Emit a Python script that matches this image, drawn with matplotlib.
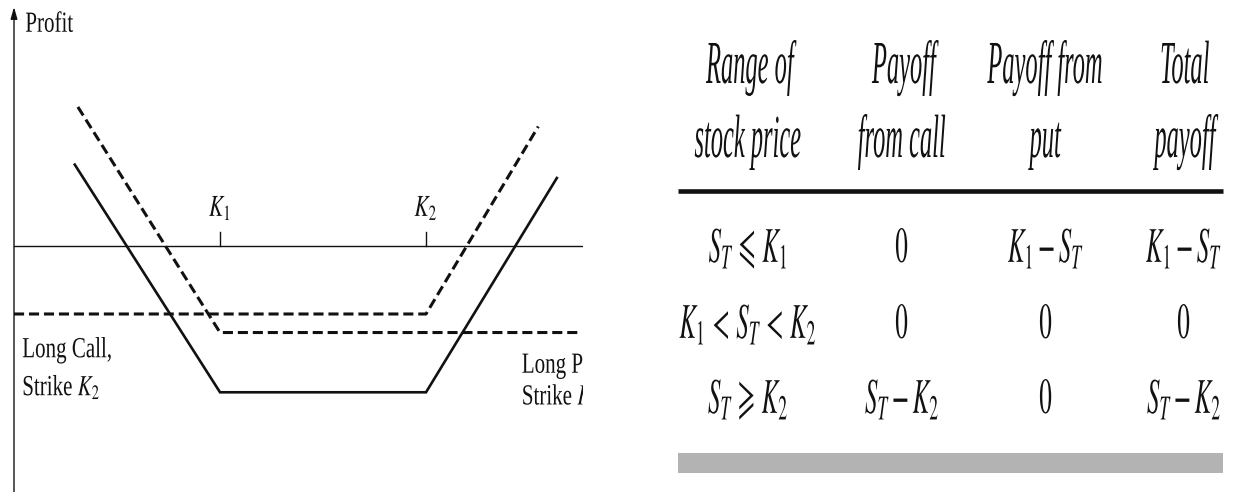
import matplotlib
matplotlib.use('Agg')
import matplotlib.pyplot as plt
from matplotlib.patheffects import AbstractPathEffect
from matplotlib.transforms import Affine2D
from matplotlib.patches import Rectangle

plt.rcParams['font.family'] = ['Liberation Serif', 'DejaVu Serif']
plt.rcParams['mathtext.fontset'] = 'stix'

# --- profit diagram (stock price, profit) ---
strikes = [40, 60]
strike_labels = [r'$K_1$', r'$K_2$']
put_price = [26.2, 40, 74.8]
put_profit = [13.5, -8.4, -8.4]
call_price = [20, 60, 70.9]
call_profit = [-6.6, -6.6, 11.6]
strangle_price = [25.9, 40, 60, 72.7]
strangle_profit = [7.9, -14.2, -14.2, 6.6]

# --- payoff table ---
header_top = ['Range of', 'Payoff', 'Payoff from', 'Total']
header_bottom = ['stock price', 'from call', 'put', 'payoff']
price_ranges = [r'$S_T\,\leqslant\,K_1$', r'$K_1\,<\,S_T\,<\,K_2$', r'$S_T\,\geqslant\,K_2$']
call_payoffs = [r'$0$', r'$0$', r'$S_T - K_2$']
put_payoffs = [r'$K_1 - S_T$', r'$0$', r'$0$']
total_payoffs = [r'$K_1 - S_T$', r'$0$', r'$S_T - K_2$']


class Squeeze(AbstractPathEffect):
    """Draw text glyphs narrower (the original uses a condensed face)."""

    def __init__(self, sx, anchor='center'):
        super().__init__()
        self.sx = sx
        self.anchor = anchor

    def draw_path(self, renderer, gc, tpath, affine, rgbFace=None):
        if self.anchor == 'center':
            ext = tpath.get_extents()
            cx = (ext.x0 + ext.x1) / 2
        else:
            cx = 0
        squeeze = Affine2D().translate(-cx, 0).scale(self.sx, 1).translate(cx, 0)
        renderer.draw_path(gc, tpath, squeeze + affine, rgbFace)


ink = '#111111'
fig = plt.figure(figsize=(12.4, 4.92), dpi=100)

# left panel: 10.3 px per unit, K1 at px 220, zero line at px 246
ax = fig.add_axes([0, 0, 583 / 1240, 1])
ax.set_xlim(18.64, 75.24)
ax.set_ylim(-23.88, 23.88)
ax.set_axis_off()

ax.plot([20, 75.1], [0, 0], color=ink, lw=1.0)
ax.annotate('', xy=(20, 23.2), xytext=(20, -23.9),
            arrowprops=dict(arrowstyle='-|>,head_width=0.2,head_length=0.7',
                            color=ink, lw=1.0, shrinkA=0, shrinkB=0))
for k, lab in zip(strikes, strike_labels):
    ax.plot([k, k], [0, 1.35], color=ink, lw=1.0)
    ax.text(k, 2.9, lab, ha='center', va='baseline', fontsize=22, color=ink,
            path_effects=[Squeeze(0.7)])

ax.plot(strangle_price, strangle_profit, color=ink, lw=1.9, solid_joinstyle='miter')
ax.plot(call_price, call_profit, color=ink, lw=2.2, linestyle=(0, (3.3, 1.6)))
ax.plot(put_price, put_profit, color=ink, lw=2.2, linestyle=(0, (3.3, 1.6)))

left_labels = [
    (21.1, 20.8, 'Profit'),
    (20.8, -10.8, 'Long Call,'),
    (20.8, -14.5, r'Strike $K_2$'),
    (69.3, -12.3, 'Long Put,'),
    (69.3, -15.4, r'Strike $K_1$'),
]
for x, y, s in left_labels:
    ax.text(x, y, s, ha='left', va='baseline', fontsize=21, color=ink,
            clip_on=True, path_effects=[Squeeze(0.72, anchor='left')])

# right panel: table laid out in pixel coordinates
tab = fig.add_axes([0, 0, 1, 1])
tab.set_xlim(0, 1240)
tab.set_ylim(492, 0)
tab.set_axis_off()

col_x = [748, 902, 1046, 1184]
for cx, top, bottom in zip(col_x, header_top, header_bottom):
    tab.text(cx, 83, top, ha='center', va='baseline', fontsize=44,
             style='italic', color=ink, path_effects=[Squeeze(0.40)])
    tab.text(cx, 157, bottom, ha='center', va='baseline', fontsize=44,
             style='italic', color=ink, path_effects=[Squeeze(0.40)])

tab.plot([678, 1223], [190.5, 190.5], color=ink, lw=3.3, solid_capstyle='butt')

row_y = [262, 338, 413]
columns = [price_ranges, call_payoffs, put_payoffs, total_payoffs]
for cx, cells in zip(col_x, columns):
    for y, s in zip(row_y, cells):
        tab.text(cx, y, s, ha='center', va='baseline', fontsize=36, color=ink,
                 path_effects=[Squeeze(0.5)])

tab.add_patch(Rectangle((678, 453), 545, 20, color='#b3b3b3', lw=0))

fig.savefig('out.png', dpi=100)
